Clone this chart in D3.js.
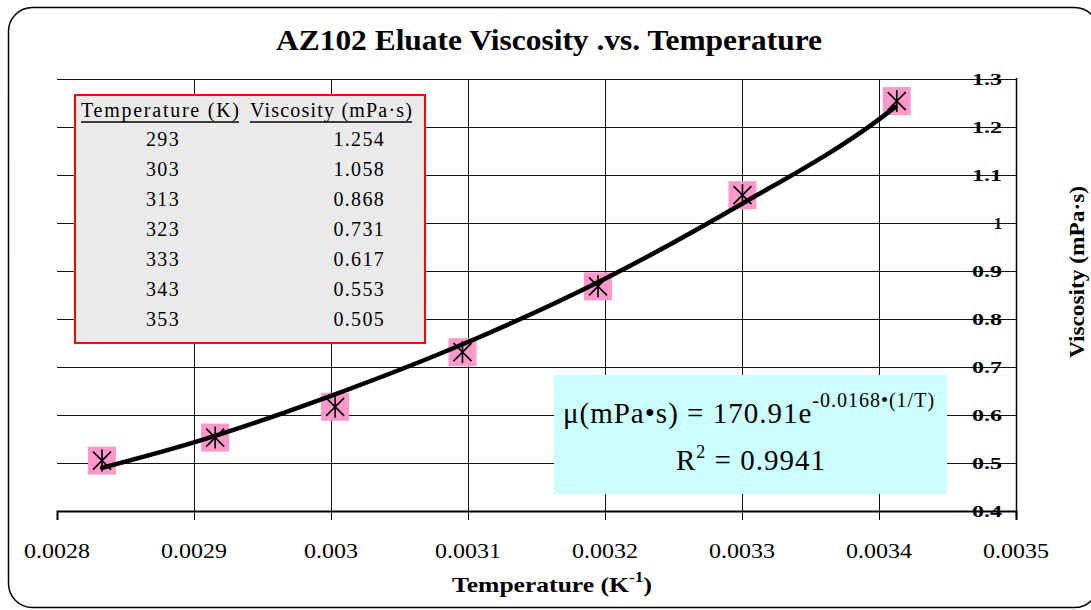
<!DOCTYPE html>
<html>
<head>
<meta charset="utf-8">
<script src="https://cdn.jsdelivr.net/npm/d3@7"></script>
<style>
  html, body { margin: 0; padding: 0; background: #fff; }
  svg { display: block; }
  text { font-family: "Liberation Serif", "Times New Roman", serif; fill: #000; }
</style>
</head>
<body>
<svg id="chart" width="1091" height="610"></svg>
<script>
// ---------- data ----------
const temperaturesK = [293, 303, 313, 323, 333, 343, 353];
const viscosity = [1.254, 1.058, 0.868, 0.731, 0.617, 0.553, 0.505];
// trendline (x = 1/T, y = viscosity)
const trendX = [0.002833, 0.0029, 0.003, 0.0031, 0.0032, 0.0033, 0.0034, 0.003412];
const trendY = [0.490, 0.543, 0.640, 0.752, 0.884, 1.040, 1.216, 1.242];
const xTicks = [0.0028, 0.0029, 0.003, 0.0031, 0.0032, 0.0033, 0.0034, 0.0035];
const xTickLabels = ["0.0028", "0.0029", "0.003", "0.0031", "0.0032", "0.0033", "0.0034", "0.0035"];
const yTicks = [0.4, 0.5, 0.6, 0.7, 0.8, 0.9, 1.0, 1.1, 1.2, 1.3];
const yTickLabels = ["0.4", "0.5", "0.6", "0.7", "0.8", "0.9", "1", "1.1", "1.2", "1.3"];
const tableHeaders = ["Temperature (K)", "Viscosity (mPa·s)"];
const titleText = "AZ102 Eluate Viscosity .vs. Temperature";

// ---------- layout ----------
const svg = d3.select("#chart");
const plot = { left: 57, right: 1016, top: 79, bottom: 511 };
const x = d3.scaleLinear().domain([0.0028, 0.0035]).range([plot.left, plot.right]);
const y = d3.scaleLinear().domain([0.4, 1.3]).range([plot.bottom, plot.top]);
// em width of a numeric label (digits 0.5em, dot 0.25em)
const emWidth = s => [...s].reduce((a, c) => a + (c === "." ? 0.25 : 0.5), 0);

// outer rounded border
svg.append("rect")
  .attr("x", 8.5).attr("y", 7.5).attr("width", 1090).attr("height", 600)
  .attr("rx", 24).attr("ry", 24)
  .attr("fill", "#fff").attr("stroke", "#000").attr("stroke-width", 1.5);

// title
svg.append("text")
  .attr("x", 549).attr("y", 50)
  .attr("text-anchor", "middle")
  .style("font-size", "30px").style("font-weight", "bold")
  .attr("textLength", 546).attr("lengthAdjust", "spacingAndGlyphs")
  .text(titleText);

// gridlines
const grid = svg.append("g").attr("class", "grid");
grid.selectAll("line.h").data(yTicks).join("line")
  .attr("class", "h")
  .attr("x1", plot.left).attr("x2", plot.right)
  .attr("y1", d => Math.round(y(d)) + 0.5).attr("y2", d => Math.round(y(d)) + 0.5)
  .attr("stroke", "#111").attr("stroke-width", 1);
grid.selectAll("line.v").data(xTicks.slice(1, -1)).join("line")
  .attr("class", "v")
  .attr("y1", plot.top).attr("y2", plot.bottom)
  .attr("x1", d => Math.round(x(d)) + 0.5).attr("x2", d => Math.round(x(d)) + 0.5)
  .attr("stroke", "#111").attr("stroke-width", 1);

// x axis: line + ticks from d3, labels drawn as plain text
const xAxis = d3.axisBottom(x).tickValues(xTicks).tickFormat("").tickSize(9);
const gx = svg.append("g")
  .attr("transform", `translate(0,${plot.bottom})`)
  .call(xAxis);
gx.select(".domain").attr("stroke", "#000").attr("stroke-width", 2);
gx.selectAll(".tick line").attr("stroke", "#000");
gx.selectAll(".tick text").remove();
svg.append("g").selectAll("text").data(xTicks).join("text")
  .attr("x", d => x(d)).attr("y", 558)
  .attr("text-anchor", "middle")
  .style("font-size", "22px")
  .attr("textLength", (d, i) => emWidth(xTickLabels[i]) * 24)
  .attr("lengthAdjust", "spacingAndGlyphs")
  .text((d, i) => xTickLabels[i]);

// y axis: vertical line at right, labels inside the plot left of it
svg.append("line")
  .attr("x1", plot.right + 0.5).attr("x2", plot.right + 0.5)
  .attr("y1", plot.top - 1).attr("y2", plot.bottom + 6)
  .attr("stroke", "#000").attr("stroke-width", 1.5);
svg.append("g").selectAll("text").data(yTicks).join("text")
  .attr("x", 1002).attr("y", d => y(d) + 6)
  .attr("text-anchor", "end")
  .style("font-size", "17px").style("font-weight", "bold")
  .attr("textLength", (d, i) => yTickLabels[i].length === 1 ? 8 : 30)
  .attr("lengthAdjust", "spacingAndGlyphs")
  .text((d, i) => yTickLabels[i]);

// equation box
svg.append("rect")
  .attr("x", 554).attr("y", 375).attr("width", 393).attr("height", 119)
  .attr("fill", "#ccffff");
const eq1 = svg.append("text")
  .attr("x", 749).attr("y", 423)
  .attr("text-anchor", "middle")
  .style("font-size", "29px").attr("letter-spacing", 1);
eq1.append("tspan").text("μ(mPa•s) = 170.91e");
eq1.append("tspan").style("font-size", "20px").attr("dy", -16).text("-0.0168•(1/T)");
const eq2 = svg.append("text")
  .attr("x", 751).attr("y", 470)
  .attr("text-anchor", "middle")
  .style("font-size", "29px").attr("letter-spacing", 1);
eq2.append("tspan").text("R");
eq2.append("tspan").style("font-size", "18px").attr("dy", -12).text("2");
eq2.append("tspan").attr("dy", 12).text(" = 0.9941");

// data markers: pink squares + asterisks
const pts = temperaturesK.map((t, i) => ({ xv: 1 / t, yv: viscosity[i] }));
svg.append("g").selectAll("rect").data(pts).join("rect")
  .attr("x", d => x(d.xv) - 14).attr("y", d => y(d.yv) - 14)
  .attr("width", 28).attr("height", 28)
  .attr("fill", "#ff99cc");
const star = svg.append("g").selectAll("g").data(pts).join("g")
  .attr("transform", d => `translate(${x(d.xv)},${y(d.yv)})`);
star.append("line").attr("x1", 0).attr("x2", 0).attr("y1", -11).attr("y2", 11);
star.append("line").attr("x1", -9).attr("x2", 9).attr("y1", -9).attr("y2", 9);
star.append("line").attr("x1", -9).attr("x2", 9).attr("y1", 9).attr("y2", -9);
star.selectAll("line").attr("stroke", "#000").attr("stroke-width", 1.6);

// trendline
const trend = trendX.map((v, i) => [v, trendY[i]]);
svg.append("path")
  .datum(trend)
  .attr("d", d3.line().x(d => x(d[0])).y(d => y(d[1])).curve(d3.curveMonotoneX))
  .attr("fill", "none").attr("stroke", "#000").attr("stroke-width", 4.5)
  .attr("stroke-linejoin", "round").attr("stroke-linecap", "round");

// data table
const table = svg.append("g");
table.append("rect")
  .attr("x", 75).attr("y", 95).attr("width", 350).attr("height", 248)
  .attr("fill", "#eaeaea").attr("stroke", "#ff0000").attr("stroke-width", 2);
const headerX = [81, 250];
const headerW = [158, 162];
table.selectAll("text.hdr").data(tableHeaders).join("text")
  .attr("class", "hdr")
  .attr("x", (d, i) => headerX[i]).attr("y", 117)
  .style("font-size", "20px")
  .attr("textLength", (d, i) => headerW[i]).attr("lengthAdjust", "spacing")
  .text(d => d);
table.selectAll("line.ul").data(tableHeaders).join("line")
  .attr("class", "ul")
  .attr("x1", (d, i) => headerX[i]).attr("x2", (d, i) => headerX[i] + headerW[i])
  .attr("y1", 122).attr("y2", 122)
  .attr("stroke", "#000").attr("stroke-width", 1.6);
table.selectAll("text.t").data(temperaturesK).join("text")
  .attr("class", "t")
  .attr("x", 163).attr("y", (d, i) => 146 + 30 * i)
  .attr("text-anchor", "middle")
  .style("font-size", "20px").attr("letter-spacing", 1.3)
  .text(d => d);
table.selectAll("text.v").data(viscosity).join("text")
  .attr("class", "v")
  .attr("x", 385).attr("y", (d, i) => 146 + 30 * i)
  .attr("text-anchor", "end")
  .style("font-size", "20px").attr("letter-spacing", 1.3)
  .text(d => d3.format(".3f")(d));

// axis titles
const xt = svg.append("text")
  .attr("x", 452).attr("y", 592)
  .style("font-size", "22px").style("font-weight", "bold")
  .attr("textLength", 200).attr("lengthAdjust", "spacingAndGlyphs");
xt.append("tspan").text("Temperature (K");
xt.append("tspan").style("font-size", "15px").attr("dy", -10).text("-1");
xt.append("tspan").attr("dy", 10).text(")");

svg.append("text")
  .attr("transform", "translate(1084,272) rotate(-90)")
  .attr("text-anchor", "middle")
  .style("font-size", "21px").style("font-weight", "bold")
  .attr("textLength", 172).attr("lengthAdjust", "spacingAndGlyphs")
  .text("Viscosity (mPa·s)");
</script>
</body>
</html>
